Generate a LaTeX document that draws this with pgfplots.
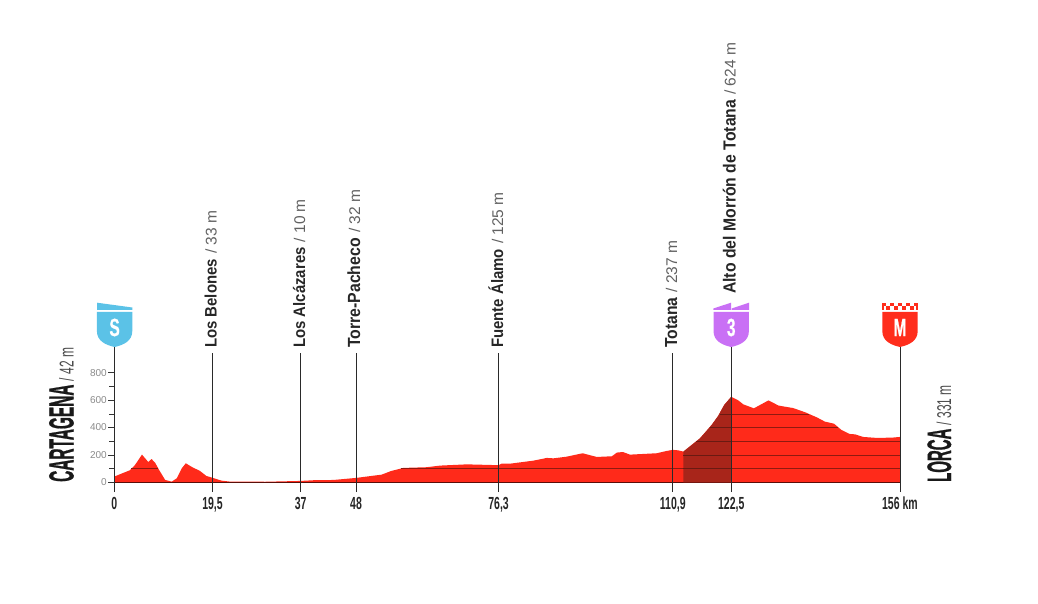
\documentclass[border=0pt]{standalone}
\usepackage{pgfplots}
\pgfplotsset{compat=1.18}
\usepackage{fontspec}
\setmainfont{Liberation Sans}
\newfontfamily\heavy[FakeStretch=0.44,FakeBold=0.6]{Liberation Sans Bold}
\newfontfamily\tickf[FakeStretch=0.6]{Liberation Sans Bold}
\newfontfamily\badgef[FakeStretch=0.62,FakeBold=0.5]{Liberation Sans Bold}
\newfontfamily\labf[FakeStretch=0.9]{Liberation Sans Bold}
\newfontfamily\thinc[FakeStretch=0.6]{Liberation Sans}
\definecolor{prof}{HTML}{FF2A1A}
\definecolor{profdark}{HTML}{A8251A}
\definecolor{gridl}{HTML}{8F1A10}
\definecolor{griddk}{HTML}{6A1A12}
\definecolor{sblue}{HTML}{5BC2E7}
\definecolor{purp}{HTML}{C970F5}
\definecolor{redb}{HTML}{FF2D1C}
\definecolor{labg}{HTML}{8A8A8A}
\definecolor{stem}{HTML}{2A2A2A}
\newcommand{\place}[5]{% baseline x, bottom y, name, elev, name size
 \node[rotate=90,anchor=base west,inner sep=0pt] at (#1,#2) {{\labf\fontsize{#5}{16}\selectfont\color{black!85}#3}{\fontsize{15.5}{16}\selectfont\color{black!62}\,\,/ #4}};}
\newcommand{\shield}[3]{% center x, colour, letter
 \fill[#2] (#1-17.7,312) -- (#1+17.7,312) -- (#1+17.7,331)
   .. controls (#1+17.7,341) and (#1+9,345) .. (#1,347)
   .. controls (#1-9,345) and (#1-17.7,341) .. (#1-17.7,331) -- cycle;
 \node[text=white,inner sep=0pt] at (#1,327.5) {\badgef\fontsize{25}{25}\selectfont #3};}
\begin{document}
\begin{tikzpicture}
\path[use as bounding box] (0,0) rectangle (1038pt,603pt);
\begin{axis}[
  at={(114.3pt,120.7pt)},anchor=origin,
  x=5.036pt,y=0.137pt,
  xmin=0,xmax=156,ymin=0,ymax=989,
  clip=false,
  axis lines=left,
  axis line style={-},
  x axis line style={draw=black,line width=0.8pt},
  y axis line style={draw=none},
  xtick={0,19.5,37,48,76.3,110.9,122.5,156},
  xticklabels={0,{19,5},37,48,{76,3},{110,9},{122,5},156 km},
  xtick style={draw=none},
  xticklabel style={font=\tickf\fontsize{17.5}{17}\selectfont,text=black!85,anchor=north,yshift=-5pt},
  ytick={0,200,400,600,800},
  yticklabels={0,200,400,600,800},
  minor y tick num=1,
  tick align=outside,
  major tick length=6pt,minor tick length=5pt,
  ytick style={draw=black!80,line width=0.5pt},
  minor tick style={draw=black!80,line width=0.5pt},
  yticklabel style={font=\fontsize{10}{10}\selectfont,text=labg,anchor=east,xshift=2pt},
]
\addplot[fill=prof,draw=none] coordinates {
(0,42)(3.1,88)(4.1,126)(5.5,202)(6.75,148)(7.4,170)(8.1,143)(8.9,90)(10.1,17)(11.4,5)(12.4,29)(13.4,102)(14.2,139)(15.4,112)(17,83)(18.3,46)(19.5,33)(21.3,12)(23,5)(30,4)(37,10)(39.5,15)(43.5,17)(48,32)(53.1,56)(55,83)(57.4,105)(62,110)(64.7,122)(70,131)(76.3,125)(76.9,136)(78.6,136)(83.2,158)(85.9,178)(87.2,175)(89.8,187)(93,212)(95.8,185)(98.8,190)(99.8,217)(101,221)(102.4,202)(107.7,212)(109.7,229)(110.9,237)(112,233)(113,224)(116.3,321)(118.6,418)(119.9,484)(121.1,564)(122.5,624)(123.9,598)(124.9,569)(127,540)(129.9,598)(131.9,560)(134.8,542)(137.2,511)(139.5,474)(141.1,443)(142.9,428)(144.4,382)(146,353)(147.1,350)(148.7,331)(151.4,324)(154.4,326)(156,331)
} \closedcycle;
\addplot[fill=profdark,draw=none] coordinates {
(113,224)(116.3,321)(118.6,418)(119.9,484)(121.1,564)(122.5,624)
} \closedcycle;
% horizontal rules inside the profile
\addplot[gridl,line width=0.6pt] coordinates {(3.4,100)(8.7,100)};
\addplot[gridl,line width=0.6pt] coordinates {(56.9,100)(113,100)};
\addplot[griddk,line width=0.6pt] coordinates {(113,100)(122.5,100)};
\addplot[griddk,line width=0.6pt] coordinates {(113,200)(122.5,200)};
\addplot[griddk,line width=0.6pt] coordinates {(115.6,300)(122.5,300)};
\addplot[griddk,line width=0.6pt] coordinates {(118.2,400)(122.5,400)};
\addplot[griddk,line width=0.6pt] coordinates {(120.2,500)(122.5,500)};
\addplot[gridl,line width=0.6pt] coordinates {(122.5,100)(156,100)};
\addplot[gridl,line width=0.6pt] coordinates {(122.5,200)(156,200)};
\addplot[gridl,line width=0.6pt] coordinates {(122.5,300)(156,300)};
\addplot[gridl,line width=0.6pt] coordinates {(122.5,400)(143.8,400)};
\addplot[gridl,line width=0.6pt] coordinates {(122.5,500)(137.9,500)};
% stems
\addplot[stem,line width=0.8pt] coordinates {(0,-71)(0,989)};
\addplot[stem,line width=0.8pt] coordinates {(19.5,-71)(19.5,945)};
\addplot[stem,line width=0.8pt] coordinates {(37,-71)(37,945)};
\addplot[stem,line width=0.8pt] coordinates {(48,-71)(48,945)};
\addplot[stem,line width=0.8pt] coordinates {(76.3,-71)(76.3,945)};
\addplot[stem,line width=0.8pt] coordinates {(110.9,-71)(110.9,945)};
\addplot[stem,line width=0.8pt] coordinates {(122.5,-71)(122.5,989)};
\addplot[stem,line width=0.8pt] coordinates {(156,-71)(156,989)};
\end{axis}
\begin{scope}[shift={(0,603pt)},x=1pt,y=-1pt]
\place{216.7}{348}{Los Belones}{33 m}{16.6}
\place{305}{348}{Los Alcázares}{10 m}{16.6}
\place{360}{348}{Torre-Pacheco}{32 m}{17.6}
\place{503}{348}{Fuente Álamo}{125 m}{16.6}
\place{677}{348}{Totana}{237 m}{17.4}
\place{735.6}{294}{Alto del Morrón de Totana}{624 m}{17.5}
\node[rotate=90,anchor=base west,inner sep=0pt,text=black!90] at (73.5,482) {{\heavy\fontsize{35}{35}\selectfont CARTAGENA}{\thinc\fontsize{20}{20}\selectfont\color{black!70}\,/ 42 m}};
\node[rotate=90,anchor=base west,inner sep=0pt,text=black!90] at (951,482) {{\heavy\fontsize{34}{34}\selectfont LORCA}{\thinc\fontsize{20}{20}\selectfont\color{black!70}\,/ 331 m}};
% badges
\fill[sblue] (97,302.7) -- (132.3,307.5) -- (132.3,310) -- (97,310) -- cycle;
\shield{114.6}{sblue}{S}
\fill[purp] (713.3,308.5) -- (731,302.7) -- (731,310) -- (713.3,310) -- cycle;
\fill[purp] (731.7,308.5) -- (749,302.7) -- (749,310) -- (731.7,310) -- cycle;
\shield{731.2}{purp}{3}
\foreach \i in {0,2,4,6,8}{\fill[redb] ({882+\i*4},303) rectangle ++(4,3.4);}
\foreach \i in {1,3,5,7}{\fill[redb] ({882+\i*4},306.4) rectangle ++(4,3.6);}
\fill[redb] (882,306.4) rectangle (884,310);
\fill[redb] (916,306.4) rectangle (918,310);
\shield{900}{redb}{M}
\end{scope}
\end{tikzpicture}
\end{document}
